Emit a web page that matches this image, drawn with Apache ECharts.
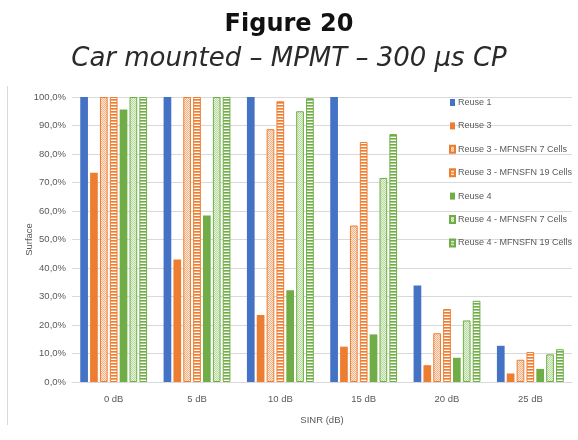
<!DOCTYPE html>
<html>
<head>
<meta charset="utf-8">
<script src="https://cdn.jsdelivr.net/npm/echarts@6/dist/echarts.min.js"></script>
<style>
html,body{margin:0;padding:0;background:#fff;}
#chart{width:578px;height:440px;}
</style>
</head>
<body>
<div id="chart"></div>
<script>
const categories = ['0 dB', '5 dB', '10 dB', '15 dB', '20 dB', '25 dB'];
const seriesNames = ['Reuse 1', 'Reuse 3', 'Reuse 3 - MFNSFN 7 Cells', 'Reuse 3 - MFNSFN 19 Cells', 'Reuse 4', 'Reuse 4 - MFNSFN 7 Cells', 'Reuse 4 - MFNSFN 19 Cells'];
const reuse1 = [100, 100, 100, 100, 33.9, 12.7];
const reuse3 = [73.4, 43.0, 23.5, 12.4, 5.9, 3.0];
const reuse3_7 = [100, 100, 88.7, 54.9, 17.1, 7.8];
const reuse3_19 = [100, 100, 98.5, 84.2, 25.6, 10.5];
const reuse4 = [95.6, 58.4, 32.2, 16.7, 8.5, 4.6];
const reuse4_7 = [100, 100, 95.0, 71.6, 21.6, 9.7];
const reuse4_19 = [100, 100, 99.6, 87.0, 28.5, 11.5];
const yTicks = [0, 10, 20, 30, 40, 50, 60, 70, 80, 90, 100];

const BLUE = '#4472c4', ORANGE = '#ed7d31', GREEN = '#70ad47';
const SMALL = "'Liberation Sans', sans-serif";

function stripePattern(fg, mid) {
  const c = document.createElement('canvas');
  c.width = 4; c.height = 3;
  const ctx = c.getContext('2d');
  ctx.fillStyle = '#ffffff'; ctx.fillRect(0, 0, 4, 3);
  ctx.fillStyle = fg; ctx.fillRect(0, 0, 4, 1);
  ctx.fillStyle = mid; ctx.fillRect(0, 1, 4, 1);
  return { image: c, repeat: 'repeat' };
}
function dotPattern(a, b) {
  const c = document.createElement('canvas');
  c.width = 2; c.height = 2;
  const ctx = c.getContext('2d');
  ctx.fillStyle = b; ctx.fillRect(0, 0, 2, 2);
  ctx.fillStyle = a; ctx.fillRect(0, 0, 1, 1); ctx.fillRect(1, 1, 1, 1);
  return { image: c, repeat: 'repeat' };
}

const styles = [
  { color: BLUE },
  { color: ORANGE },
  { color: dotPattern('#f4b183', '#fde9dc'), borderColor: ORANGE, borderWidth: 1 },
  { color: stripePattern(ORANGE, '#f5a872'), borderColor: ORANGE, borderWidth: 1 },
  { color: GREEN },
  { color: dotPattern('#b4d99b', '#e9f4e2'), borderColor: GREEN, borderWidth: 1 },
  { color: stripePattern(GREEN, '#a3cc88'), borderColor: GREEN, borderWidth: 1 }
];
const dataSets = [reuse1, reuse3, reuse3_7, reuse3_19, reuse4, reuse4_7, reuse4_19];

const chart = echarts.init(document.getElementById('chart'), null, { renderer: 'canvas' });
chart.setOption({
  animation: false,
  backgroundColor: '#ffffff',
  title: [
    { text: 'Figure 20', left: 'center', top: 8,
      textStyle: { fontFamily: 'DejaVu Sans', fontWeight: 'bold', fontSize: 24, color: '#111111' } },
    { text: 'Car mounted – MPMT – 300 µs CP', left: 'center', top: 41,
      textStyle: { fontFamily: 'DejaVu Sans', fontStyle: 'italic', fontWeight: 300, fontSize: 26, color: '#2a2a2a' } }
  ],
  graphic: [
    { type: 'line', shape: { x1: 7.5, y1: 86, x2: 7.5, y2: 425 }, style: { stroke: '#d9d9d9', lineWidth: 1 } }
  ],
  legend: {
    orient: 'vertical', left: 444, top: 93,
    itemWidth: 5, itemHeight: 7, itemGap: 14.4,
    icon: 'rect',
    textStyle: { fontFamily: SMALL, fontSize: 9, color: '#595959', padding: [0, 0, 0, -2] },
    data: seriesNames
  },
  grid: { left: 72, right: 6, top: 97, bottom: 58 },
  xAxis: {
    type: 'category', data: categories,
    name: 'SINR (dB)', nameLocation: 'middle', nameGap: 33, nameMoveOverlap: false,
    nameTextStyle: { fontFamily: SMALL, fontSize: 9.5, color: '#595959' },
    axisLine: { lineStyle: { color: '#d9d9d9', width: 1 } },
    axisTick: { show: false },
    axisLabel: { fontFamily: SMALL, fontSize: 9.5, color: '#595959', margin: 12 }
  },
  yAxis: {
    type: 'value', min: 0, max: 100, interval: 10,
    name: 'Surface', nameLocation: 'middle', nameGap: 38, nameRotate: 90, nameMoveOverlap: false,
    nameTextStyle: { fontFamily: SMALL, fontSize: 9.5, color: '#595959' },
    axisLine: { show: false }, axisTick: { show: false },
    splitLine: { lineStyle: { color: '#d9d9d9', width: 1 } },
    axisLabel: {
      fontFamily: SMALL, fontSize: 9.5, color: '#595959', margin: 6,
      formatter: v => yTicks.includes(v) ? v.toFixed(1).replace('.', ',') + '%' : ''
    }
  },
  series: seriesNames.map((n, i) => ({
    name: n, type: 'bar', data: dataSets[i],
    barWidth: 7.7, barGap: '28%',
    itemStyle: styles[i]
  }))
});
</script>
</body>
</html>
